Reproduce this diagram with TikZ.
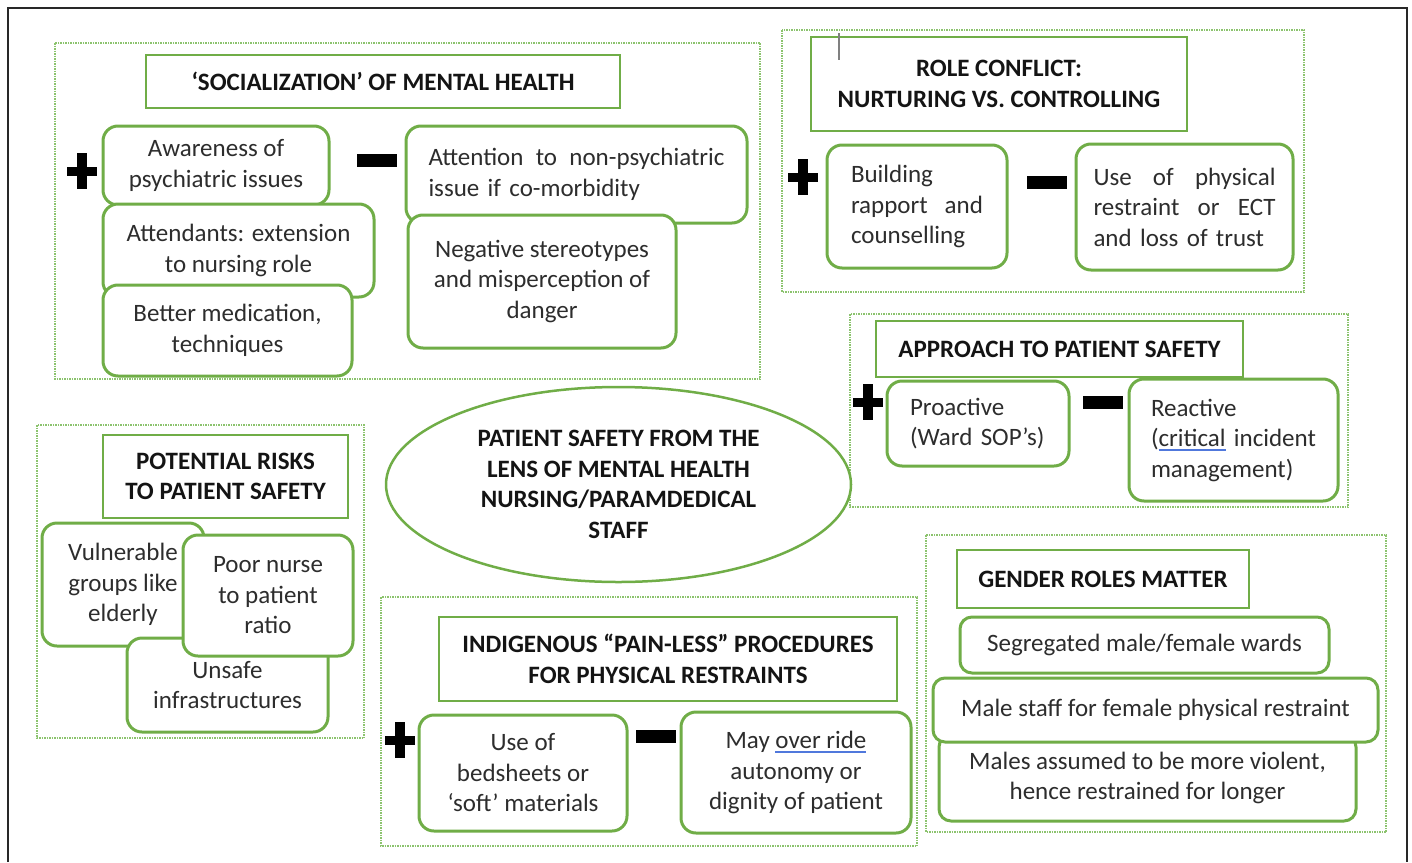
\documentclass[tikz,border=0pt]{standalone}
\usepackage{fontspec}
\setmainfont{Carlito}
\usetikzlibrary{positioning, shapes.geometric}

\definecolor{boxgreen}{RGB}{112,173,71}
\definecolor{groupgreen}{RGB}{140,195,110}
\definecolor{itemgray}{RGB}{45,45,45}
\definecolor{titleblack}{RGB}{20,20,20}
\definecolor{framegray}{RGB}{40,40,40}
\definecolor{spellblue}{RGB}{80,120,220}

\newcommand{\itemfont}{\fontsize{25}{30.5}\selectfont}
\newcommand{\titlefont}{\fontsize{25}{30.5}\selectfont\bfseries}
\newsavebox{\spellbox}
\newcommand{\spellmark}[1]{\sbox{\spellbox}{#1}%
    \rlap{\color{spellblue}\rule[-4.5pt]{\wd\spellbox}{1.6pt}}\usebox{\spellbox}}

\begin{document}
\begin{tikzpicture}[
    x=1pt, y=-1pt,
    frame/.style={draw=framegray, line width=2pt},
    groupbox/.style={draw=groupgreen, densely dotted, line width=1.5pt},
    titlebox/.style={rectangle, draw=boxgreen, line width=2.5pt, fill=white,
        inner sep=0pt, align=center, font=\titlefont, text=titleblack},
    itembox/.style={rectangle, rounded corners=15pt, draw=boxgreen, line width=3pt,
        fill=white, inner sep=0pt, align=center, font=\itemfont, text=itemgray},
    plusmark/.pic={\fill[black] (-15,-4.5) rectangle (15,4.5);
        \fill[black] (-5,-18) rectangle (5,18);},
    minusmark/.pic={\fill[black] (-20,-6.5) rectangle (20,6.5);}
]

    \useasboundingbox (0,0) rectangle (1412,862);

    % Frame ------------------------------------------------------

    \draw[frame] (8,862) -- (8,8) -- (1407,8) -- (1407,862);

    % Groups -----------------------------------------------------

    \draw[groupbox] (55,43) rectangle (760,379);
    \draw[groupbox] (782,30) rectangle (1304,292);
    \draw[groupbox] (850,314) rectangle (1348,507);
    \draw[groupbox] (37,425) rectangle (364,738);
    \draw[groupbox] (381,597) rectangle (917,846);
    \draw[groupbox] (926,535) rectangle (1386,832);

    % Socialization ----------------------------------------------

    \node[titlebox, minimum width=474, minimum height=53] (soc_title) at (383,81.5)
        {‘SOCIALIZATION’ OF MENTAL HEALTH};
    \node[itembox, minimum width=226, minimum height=79] (soc_p1) at (216,165.5)
        {Awareness of\\psychiatric issues};
    \node[itembox, minimum width=271, minimum height=93] (soc_p2) at (238.5,250.5)
        {Attendants: extension\\to nursing role};
    \node[itembox, minimum width=249, minimum height=91] (soc_p3) at (227.5,330.5)
        {Better medication,\\techniques};
    \node[itembox, minimum width=341, minimum height=97, text width=296, align=left]
        (soc_m1) at (576.5,174.5)
        {Attention\hfill to\hfill non-psychiatric\\issue if co-morbidity};
    \node[itembox, minimum width=268, minimum height=133] (soc_m2) at (542,281.5)
        {Negative stereotypes\\and misperception of\\danger};
    \pic at (82,171) {plusmark};
    \pic at (377,160) {minusmark};

    % Role conflict ----------------------------------------------

    \node[titlebox, minimum width=376, minimum height=94] (role_title) at (999,84)
        {ROLE CONFLICT:\\NURTURING VS. CONTROLLING};
    \draw[gray, line width=1.2pt] (839,33) -- (839,60);
    \node[itembox, minimum width=180, minimum height=123, text width=132, align=left]
        (role_p1) at (917,206.5)
        {Building\\rapport\hfill and\\counselling};
    \node[itembox, minimum width=217, minimum height=126, text width=182, align=left]
        (role_m1) at (1184.5,207)
        {Use\hfill of\hfill physical\\restraint\hfill or\hfill ECT\\and loss of trust};
    \pic at (803,177) {plusmark};
    \pic at (1047,182) {minusmark};

    % Approach ---------------------------------------------------

    \node[titlebox, minimum width=367, minimum height=56] (app_title) at (1059.5,349)
        {APPROACH TO PATIENT SAFETY};
    \node[itembox, minimum width=182, minimum height=85, text width=136, align=left]
        (app_p1) at (978,423.5)
        {Proactive\\(Ward SOP’s)};
    \node[itembox, minimum width=209, minimum height=122, text width=165, align=left]
        (app_m1) at (1233.5,440)
        {Reactive\\(\spellmark{critical} incident\\management)};
    \pic at (868,402) {plusmark};
    \pic at (1103,402) {minusmark};

    % Potential risks --------------------------------------------

    \node[titlebox, minimum width=245, minimum height=83] (risk_title) at (225.5,476.5)
        {POTENTIAL RISKS\\TO PATIENT SAFETY};
    \node[itembox, minimum width=162, minimum height=123] (risk_1) at (123,584.5)
        {Vulnerable\\groups like\\elderly};
    \node[itembox, minimum width=201, minimum height=94] (risk_3) at (227.5,685)
        {Unsafe\\infrastructures};
    \node[itembox, minimum width=170, minimum height=121] (risk_2) at (268,595.5)
        {Poor nurse\\to patient\\ratio};

    % Centre -----------------------------------------------------

    \node[ellipse, draw=boxgreen, line width=2.5pt, fill=white, inner sep=0pt,
        minimum width=465, minimum height=195, align=center, font=\titlefont,
        text=titleblack] (core) at (618.5,484.5)
        {PATIENT SAFETY FROM THE\\LENS OF MENTAL HEALTH\\NURSING/PARAMDEDICAL\\STAFF};

    % Indigenous procedures --------------------------------------

    \node[titlebox, minimum width=458, minimum height=84] (ind_title) at (668,659)
        {INDIGENOUS “PAIN-LESS” PROCEDURES\\FOR PHYSICAL RESTRAINTS};
    \node[itembox, minimum width=208, minimum height=116] (ind_p1) at (523,773)
        {Use of\\bedsheets or\\‘soft’ materials};
    \node[itembox, minimum width=230, minimum height=121] (ind_m1) at (796,772.5)
        {May \spellmark{over ride}\\autonomy or\\dignity of patient};
    \pic at (400,740) {plusmark};
    \pic at (656,736) {minusmark};

    % Gender roles -----------------------------------------------

    \node[titlebox, minimum width=292, minimum height=58] (gen_title) at (1103,579)
        {GENDER ROLES MATTER};
    \node[itembox, rounded corners=12pt, minimum width=369, minimum height=56]
        (gen_1) at (1144.5,645)
        {Segregated male/female wards};
    \node[itembox, rounded corners=12pt, minimum width=417, minimum height=86]
        (gen_3) at (1147.5,778)
        {Males assumed to be more violent,\\hence restrained for longer};
    \node[itembox, rounded corners=12pt, minimum width=445, minimum height=64]
        (gen_2) at (1155.5,710)
        {Male staff for female physical restraint};

\end{tikzpicture}
\end{document}
